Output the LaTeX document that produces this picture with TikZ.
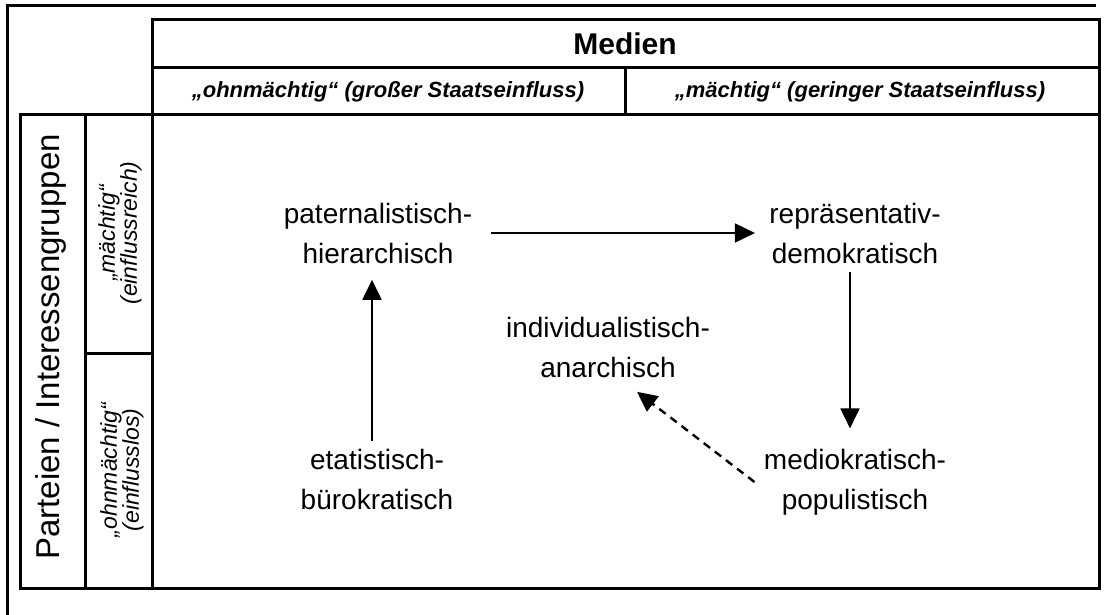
\documentclass[tikz,border=0pt]{standalone}
\usepackage{fontspec}
\setmainfont{Liberation Sans}
\usetikzlibrary{arrows.meta}

\begin{document}
\begin{tikzpicture}
[
  x=1pt, y=-1pt,
  line width=3pt,
  typ/.style ={align=center, inner sep=0pt, font=\fontsize{28}{40}\selectfont},
  kopf/.style={font=\fontsize{22}{26}\selectfont\bfseries\itshape},
  seite/.style={rotate=90, align=center, font=\fontsize{23}{22}\selectfont\itshape},
  pfeil/.style={-{Triangle[length=20pt,width=19pt]}, line width=1.8pt},
]
\useasboundingbox (0,0) rectangle (1105,615);

% outer frame
\draw (7,615)--(7,6)--(1096,6);

% table
\draw (152,20) rectangle (1099,115);
\draw (152,68)--(1099,68);
\draw (625,68)--(625,115);
\draw (20,115) rectangle (1099,588);
\draw (85,115)--(85,588);
\draw (152,115)--(152,588);
\draw (85,353)--(152,353);

% headers
\node[font=\fontsize{30}{34}\selectfont\bfseries] (medien) at (625,44) {Medien};
\node[kopf] (ohn) at (388,92) {„ohnmächtig“ (großer Staatseinfluss)};
\node[kopf] (mae) at (860,92) {„mächtig“ (geringer Staatseinfluss)};

\node[rotate=90, font=\fontsize{33}{36}\selectfont] (partei) at (51,347) {Parteien / Interessengruppen};
\node[seite] (reich) at (120,233) {„mächtig“\\(einflussreich)};
\node[seite] (los) at (122,470) {„ohnmächtig“\\(einflusslos)};

% types
\node[typ] (pat) at (378,233) {paternalistisch-\\hierarchisch};
\node[typ] (rep) at (855,233) {repräsentativ-\\demokratisch};
\node[typ] (ind) at (608,347) {individualistisch-\\anarchisch};
\node[typ] (eta) at (377,479) {etatistisch-\\bürokratisch};
\node[typ] (med) at (855,482) {mediokratisch-\\populistisch};

% transitions
\draw[pfeil, shorten <=17pt, shorten >=13pt] (pat.east) -- (rep.west);
\draw[pfeil, shorten <=7pt, shorten >=19pt] ([xshift=-5pt]rep.south) -- ([xshift=-5pt]med.north);
\draw[pfeil, shorten <=6pt, shorten >=15pt] ([xshift=-5pt]eta.north) -- ([xshift=-5pt]eta.north |- pat.south);
\draw[pfeil, line width=2.4pt, dash pattern=on 8pt off 6pt] ([xshift=-8pt]med.west) -- ([xshift=29pt,yshift=-13pt]ind.south);

\end{tikzpicture}
\end{document}
